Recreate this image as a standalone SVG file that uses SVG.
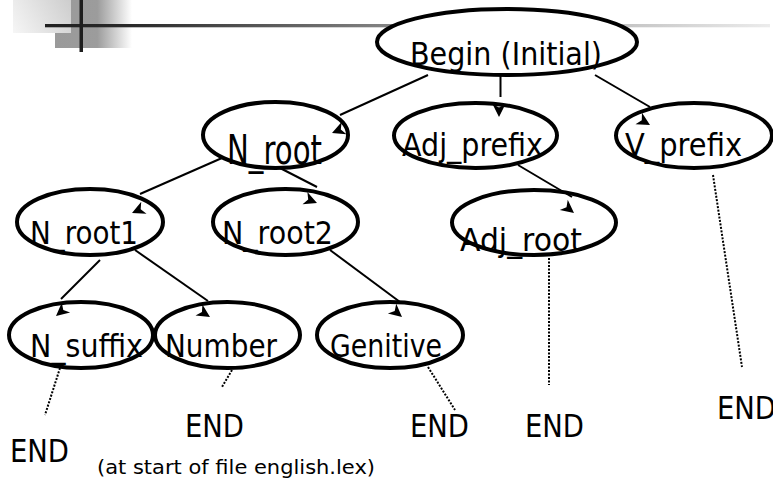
<svg xmlns="http://www.w3.org/2000/svg" width="773" height="485" viewBox="0 0 773 485">
  <defs>
    <linearGradient id="barFade" x1="55" y1="0" x2="132" y2="0" gradientUnits="userSpaceOnUse">
      <stop offset="0" stop-color="#9a9a9a"/>
      <stop offset="0.55" stop-color="#9c9c9c"/>
      <stop offset="1" stop-color="#ffffff"/>
    </linearGradient>
    <linearGradient id="tileFade" x1="13" y1="33" x2="71" y2="0" gradientUnits="userSpaceOnUse">
      <stop offset="0" stop-color="#f6f6f6"/>
      <stop offset="1" stop-color="#cdcdcd"/>
    </linearGradient>
    <linearGradient id="ruleFade" x1="45" y1="0" x2="770" y2="0" gradientUnits="userSpaceOnUse">
      <stop offset="0" stop-color="#202020"/>
      <stop offset="0.12" stop-color="#2a2a2a"/>
      <stop offset="0.49" stop-color="#888888"/>
      <stop offset="1" stop-color="#ececec"/>
    </linearGradient>
    <path id="ah" d="M0,0 L-13,-6.5 L-9.5,0 L-13,6.5 Z"/>
    <style>
      .node ellipse { fill: #ffffff; stroke: #000000; stroke-width: 4; }
      .lbl { font-family: "DejaVu Sans", "Liberation Sans", sans-serif; font-size: 32.5px; fill: #000000; }
      .edge { stroke: #000000; stroke-width: 2; fill: none; }
      .dot { stroke: #000000; stroke-width: 2; fill: none; stroke-dasharray: 2 1.5; }
      .head { fill: #000000; }
      .cap { font-family: "DejaVu Sans", "Liberation Sans", sans-serif; font-size: 20px; fill: #000000; }
    </style>
  </defs>

  <!-- title decoration -->
  <g id="header">
    <rect x="55" y="0" width="77" height="48" fill="url(#barFade)"/>
    <rect x="13" y="0" width="58" height="33" fill="url(#tileFade)"/>
    <rect x="45" y="24" width="725" height="3.3" fill="url(#ruleFade)"/>
    <rect x="79.5" y="0" width="3.5" height="52" fill="#1e1e1e"/>
  </g>

  <!-- states -->
  <g id="begin" class="node">
    <ellipse cx="507" cy="42" rx="130" ry="33"/>
    <text class="lbl" x="410" y="65" textLength="192" lengthAdjust="spacingAndGlyphs">Begin (Initial)</text>
  </g>
  <g id="n_root" class="node">
    <ellipse cx="275.5" cy="135" rx="72.5" ry="33"/>
    <text class="lbl" x="227" y="0" transform="translate(0 164) scale(1 1.25)" textLength="95" lengthAdjust="spacingAndGlyphs">N_root</text>
  </g>
  <g id="adj_prefix" class="node">
    <ellipse cx="475.5" cy="135.5" rx="81.5" ry="32.5"/>
    <text class="lbl" x="402" y="156" textLength="141" lengthAdjust="spacingAndGlyphs">Adj_prefix</text>
  </g>
  <g id="v_prefix" class="node">
    <ellipse cx="694" cy="135.5" rx="78" ry="32.5"/>
    <text class="lbl" x="625" y="156" textLength="117" lengthAdjust="spacingAndGlyphs">V_prefix</text>
  </g>
  <g id="n_root1" class="node">
    <ellipse cx="90" cy="222" rx="73" ry="33"/>
    <text class="lbl" x="30" y="244" textLength="108" lengthAdjust="spacingAndGlyphs">N_root1</text>
  </g>
  <g id="n_root2" class="node">
    <ellipse cx="285.5" cy="222" rx="72.5" ry="33"/>
    <text class="lbl" x="222" y="244" textLength="111" lengthAdjust="spacingAndGlyphs">N_root2</text>
  </g>
  <g id="adj_root" class="node">
    <ellipse cx="534" cy="222.5" rx="82" ry="32.5"/>
    <text class="lbl" x="460" y="251" textLength="122" lengthAdjust="spacingAndGlyphs">Adj_root</text>
  </g>
  <g id="n_suffix" class="node">
    <ellipse cx="81" cy="335" rx="72" ry="33"/>
    <text class="lbl" x="30" y="357" textLength="113" lengthAdjust="spacingAndGlyphs">N_suffix</text>
  </g>
  <g id="number" class="node">
    <ellipse cx="227.5" cy="335" rx="72.5" ry="33"/>
    <text class="lbl" x="165" y="357" textLength="112" lengthAdjust="spacingAndGlyphs">Number</text>
  </g>
  <g id="genitive" class="node">
    <ellipse cx="390" cy="335" rx="73" ry="33"/>
    <text class="lbl" x="330" y="357" textLength="112" lengthAdjust="spacingAndGlyphs">Genitive</text>
  </g>

  <!-- end markers -->
  <g id="end1"><text class="lbl" x="10" y="462" textLength="59" lengthAdjust="spacingAndGlyphs">END</text></g>
  <g id="end2"><text class="lbl" x="185" y="437" textLength="59" lengthAdjust="spacingAndGlyphs">END</text></g>
  <g id="end3"><text class="lbl" x="410" y="437" textLength="59" lengthAdjust="spacingAndGlyphs">END</text></g>
  <g id="end4"><text class="lbl" x="525" y="437" textLength="59" lengthAdjust="spacingAndGlyphs">END</text></g>
  <g id="end5"><text class="lbl" x="717" y="419" textLength="59" lengthAdjust="spacingAndGlyphs">END</text></g>

  <text id="caption" class="cap" x="97" y="474" textLength="278" lengthAdjust="spacingAndGlyphs">(at start of file english.lex)</text>

  <!-- transitions -->
  <g id="connectors">
    <line class="edge" x1="428" y1="75" x2="340" y2="115"/>
    <use href="#ah" class="head" transform="translate(332 133) rotate(158)"/>

    <line class="edge" x1="500.5" y1="75" x2="500.5" y2="97"/>
    <use href="#ah" class="head" transform="translate(499 117) rotate(90)"/>

    <line class="edge" x1="595" y1="75" x2="650" y2="107"/>
    <use href="#ah" class="head" transform="translate(650 125) rotate(30)"/>

    <line class="edge" x1="222" y1="158" x2="140" y2="194"/>
    <use href="#ah" class="head" transform="translate(132 213) rotate(156)"/>

    <line class="edge" x1="280" y1="168" x2="317" y2="187"/>
    <use href="#ah" class="head" transform="translate(317 203) rotate(22)"/>

    <line class="edge" x1="518" y1="165" x2="572" y2="197"/>
    <use href="#ah" class="head" transform="translate(574 213) rotate(38)"/>

    <line class="edge" x1="100" y1="260" x2="61" y2="299"/>
    <use href="#ah" class="head" transform="translate(56 316) rotate(140)"/>

    <line class="edge" x1="135" y1="250" x2="208" y2="301"/>
    <use href="#ah" class="head" transform="translate(210 317) rotate(32)"/>

    <line class="edge" x1="330" y1="250" x2="400" y2="302"/>
    <use href="#ah" class="head" transform="translate(402 317) rotate(40)"/>

    <line class="dot" x1="60" y1="368" x2="45" y2="415"/>
    <line class="dot" x1="232" y1="370" x2="222" y2="387"/>
    <line class="dot" x1="428" y1="367" x2="455" y2="410"/>
    <line class="dot" x1="549" y1="258" x2="549" y2="385"/>
    <line class="dot" x1="713" y1="175" x2="742" y2="367"/>
  </g>
</svg>
